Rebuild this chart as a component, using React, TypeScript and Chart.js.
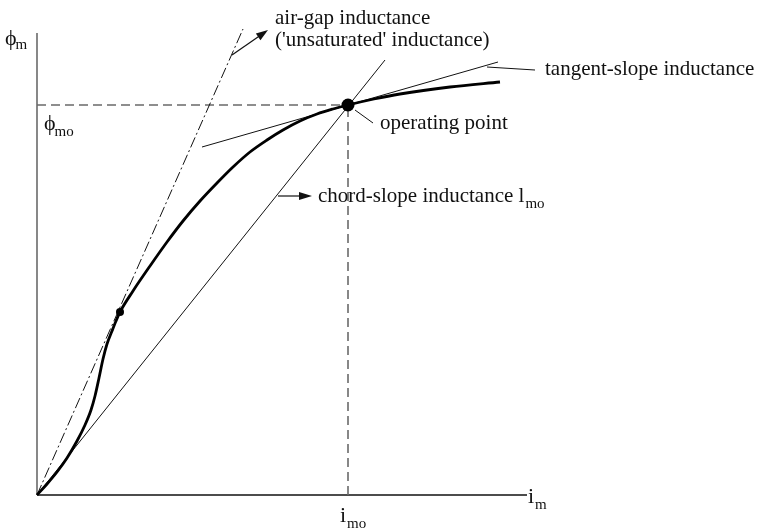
import { useEffect, useRef } from 'react';
import { Chart, registerables } from 'chart.js';
Chart.register(...registerables);

// magnetising current (arbitrary units) and flux linkage of the magnetising curve
const curveI = [0, 10, 20, 30, 40, 48, 54, 58, 62, 66, 70, 75, 79, 83, 96, 113, 130, 146, 163, 180, 196, 213, 230, 246, 263, 280, 296, 311, 337, 363, 413, 463];
const curveFlux = [0, 11, 23, 37, 54, 70, 85, 99, 117, 136, 151, 164, 174, 183, 204, 229, 253, 274, 294, 312, 328, 343, 355, 365, 374, 381, 386, 390, 396, 401, 408, 413];

// operating point and knee point
const opI = 311;
const opFlux = 390;
const kneeI = 83;
const kneeFlux = 183;

// straight lines
const airGapI = [0, 206];
const airGapFlux = [0, 466];
const chordI = [0, 348];
const chordFlux = [0, 435];
const tangentI = [165, 461];
const tangentFlux = [348, 433];

// axes extent
const axisIEnd = 490;
const axisFluxEnd = 462;

// labels
const labelAirGap1 = 'air-gap inductance';
const labelAirGap2 = "('unsaturated' inductance)";
const labelTangent = 'tangent-slope inductance';
const labelOperating = 'operating point';
const labelChord = 'chord-slope inductance l';
const labelChordSub = 'mo';

const FONT = '"Liberation Serif", "Times New Roman", serif';

const pts = (xs: number[], ys: number[]) => xs.map((x, i) => ({ x, y: ys[i] }));

export default function App() {
  const ref = useRef<HTMLCanvasElement | null>(null);
  useEffect(() => {
    if (!ref.current) return;
    const annot = {
      id: 'annot',
      afterDatasetsDraw(chart: any) {
        const ctx = chart.ctx as CanvasRenderingContext2D;
        const xs = chart.scales.x;
        const ys = chart.scales.y;
        const px = (v: number) => xs.getPixelForValue(v);
        const py = (v: number) => ys.getPixelForValue(v);
        ctx.save();
        const line = (x1: number, y1: number, x2: number, y2: number, w = 1) => {
          ctx.beginPath();
          ctx.strokeStyle = '#111';
          ctx.lineWidth = w;
          ctx.setLineDash([]);
          ctx.moveTo(px(x1), py(y1));
          ctx.lineTo(px(x2), py(y2));
          ctx.stroke();
        };
        const arrow = (x1: number, y1: number, x2: number, y2: number, len: number, half: number) => {
          const ax = px(x1), ay = py(y1), bx = px(x2), by = py(y2);
          const ang = Math.atan2(by - ay, bx - ax);
          ctx.beginPath();
          ctx.strokeStyle = '#111';
          ctx.lineWidth = 1.2;
          ctx.moveTo(ax, ay);
          ctx.lineTo(bx - Math.cos(ang) * len * 0.8, by - Math.sin(ang) * len * 0.8);
          ctx.stroke();
          ctx.beginPath();
          ctx.fillStyle = '#111';
          ctx.moveTo(bx, by);
          ctx.lineTo(bx - Math.cos(ang) * len - Math.sin(ang) * half, by - Math.sin(ang) * len + Math.cos(ang) * half);
          ctx.lineTo(bx - Math.cos(ang) * len + Math.sin(ang) * half, by - Math.sin(ang) * len - Math.cos(ang) * half);
          ctx.closePath();
          ctx.fill();
        };
        // leader lines
        line(opI + 7, opFlux - 5, opI + 25, opFlux - 18, 1);
        line(450, 428, 498, 425, 1);
        arrow(195, 440, 231, 465, 12, 4);
        arrow(241, 299, 275, 299, 13, 4);

        ctx.fillStyle = '#111';
        ctx.textBaseline = 'alphabetic';
        ctx.textAlign = 'left';
        const text = (s: string, x: number, y: number, size: number) => {
          ctx.font = `${size}px ${FONT}`;
          ctx.fillText(s, x, y);
          return ctx.measureText(s).width;
        };
        // axis symbols
        const w1 = text('\u03D5', 5, 45, 22);
        text('m', 5 + w1 - 1, 49, 15);
        const w2 = text('\u03D5', 44, 130, 22);
        text('mo', 44 + w2 - 1, 136, 15);
        const w3 = text('i', 528, 503, 22);
        text('m', 528 + w3 + 1, 509, 15);
        const w4 = text('i', 340, 522, 22);
        text('mo', 340 + w4 + 1, 528, 15);
        // labels
        text(labelAirGap1, 275, 24, 21);
        text(labelAirGap2, 275, 46, 21);
        text(labelOperating, 380, 129, 21);
        text(labelTangent, 545, 75, 21);
        const wc = text(labelChord, 318, 202, 21);
        text(labelChordSub, 318 + wc + 1, 208, 15);
        ctx.restore();
      },
    };

    const chart = new Chart(ref.current, {
      type: 'scatter',
      data: {
        datasets: [
          { data: [{ x: opI, y: opFlux }], pointRadius: 6.5, pointBackgroundColor: '#000', pointBorderWidth: 0, showLine: false, order: 0 },
          { data: [{ x: kneeI, y: kneeFlux }], pointRadius: 4, pointBackgroundColor: '#000', pointBorderWidth: 0, showLine: false, order: 0 },
          { data: pts(curveI, curveFlux), showLine: true, borderColor: '#000', borderWidth: 2.8, pointRadius: 0, cubicInterpolationMode: 'monotone', order: 1 },
          { data: pts(airGapI, airGapFlux), showLine: true, borderColor: '#111', borderWidth: 1, borderDash: [11, 3, 2, 3], pointRadius: 0, order: 2 },
          { data: pts(chordI, chordFlux), showLine: true, borderColor: '#111', borderWidth: 1, pointRadius: 0, order: 2 },
          { data: pts(tangentI, tangentFlux), showLine: true, borderColor: '#111', borderWidth: 1, pointRadius: 0, order: 2 },
          { data: [{ x: 0, y: opFlux }, { x: opI, y: opFlux }], showLine: true, borderColor: '#6a6a6a', borderWidth: 1.6, borderDash: [9, 5], pointRadius: 0, order: 3 },
          { data: [{ x: opI, y: 0 }, { x: opI, y: opFlux }], showLine: true, borderColor: '#6a6a6a', borderWidth: 1.6, borderDash: [9, 5], pointRadius: 0, order: 3 },
          { data: [{ x: 0, y: 0 }, { x: axisIEnd, y: 0 }], showLine: true, borderColor: '#111', borderWidth: 1.4, pointRadius: 0, order: 4 },
          { data: [{ x: 0, y: 0 }, { x: 0, y: axisFluxEnd }], showLine: true, borderColor: '#555', borderWidth: 1.4, pointRadius: 0, order: 4 },
        ],
      },
      options: {
        responsive: false,
        animation: false,
        events: [],
        layout: { padding: 0, autoPadding: false },
        plugins: { legend: { display: false }, tooltip: { enabled: false }, title: { display: false } },
        scales: {
          x: { type: 'linear', min: -37, max: 727, display: false },
          y: { type: 'linear', min: -33, max: 495, display: false },
        },
      },
      plugins: [annot],
    } as any);
    return () => chart.destroy();
  }, []);
  return (
    <div style={{ position: 'absolute', left: 0, top: 0, width: 764, height: 528, background: '#fff' }}>
      <canvas ref={ref} width={764} height={528} style={{ display: 'block' }} />
    </div>
  );
}
